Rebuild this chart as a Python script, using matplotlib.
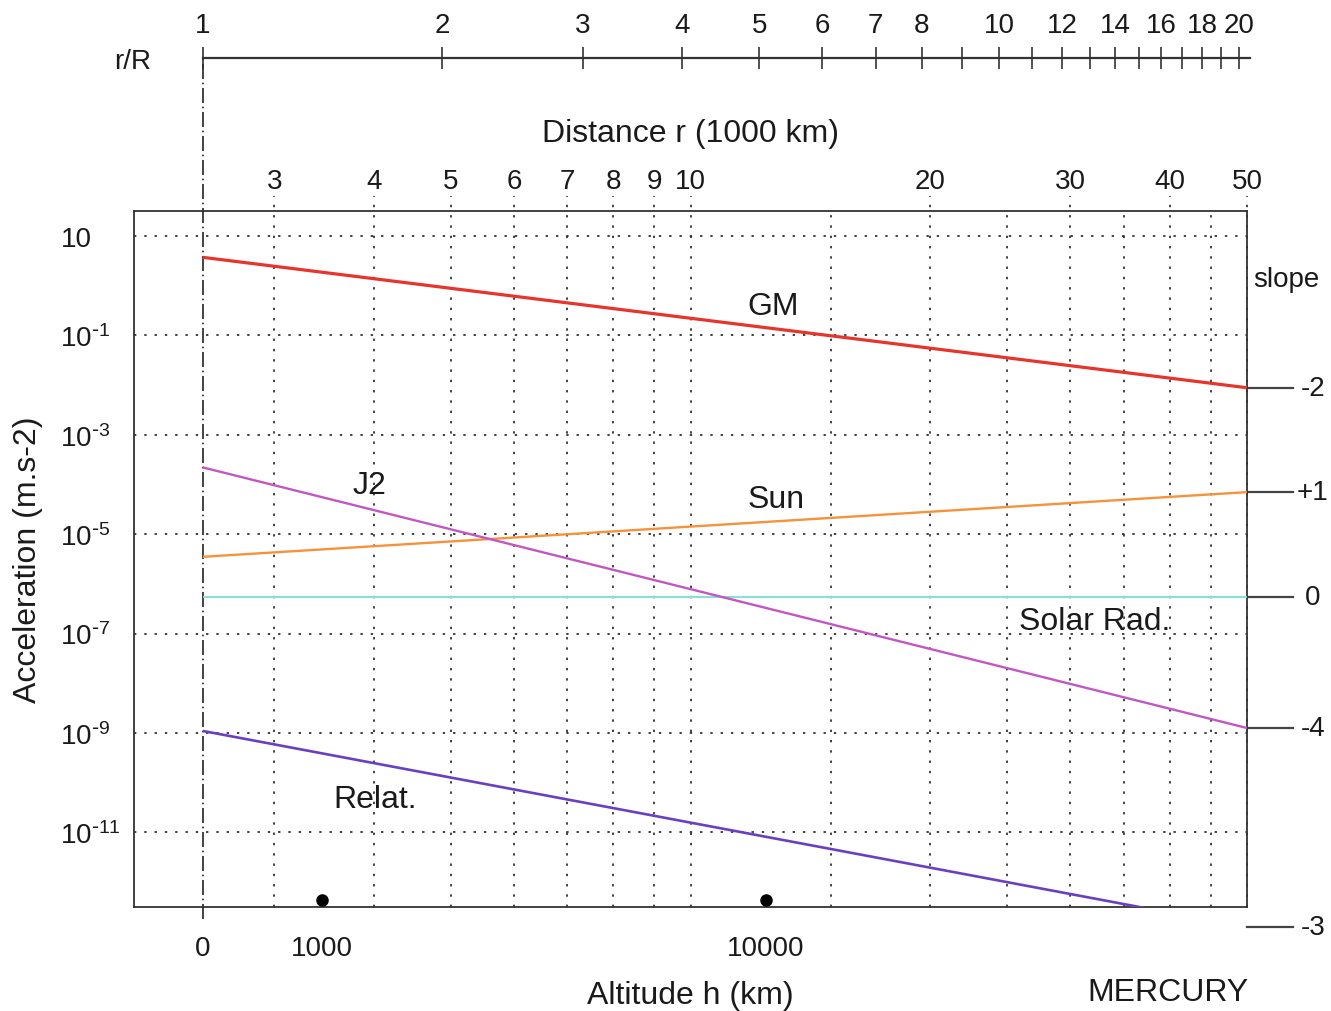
import matplotlib
matplotlib.use("Agg")
import matplotlib.pyplot as plt
import matplotlib.transforms as mtransforms

plt.rcParams["font.family"] = ["Liberation Sans", "DejaVu Sans"]
plt.rcParams["mathtext.default"] = "regular"

# ── data ───────────────────────────────────────────────────────────────────
R = 2.44                      # Mercury radius (1000 km)
r_ends = [R, 50.0]            # distance r (1000 km), line end points
gm     = [3.7, 8.8e-3]
sun    = [3.5e-6, 7.0e-5]
srad   = [5.4e-7, 5.4e-7]
j2     = [2.2e-4, 1.26e-9]
relat  = [1.1e-9, 1.24e-13]

series_names  = ["GM", "Sun", "Solar Rad.", "J2", "Relat."]
series_vals   = [gm, sun, srad, j2, relat]
series_colors = ["#e8352b", "#f7923a", "#86e0d6", "#c257c4", "#6a40c2"]
series_lw     = [2.3, 1.7, 1.5, 1.7, 1.9]
slopes        = ["-2", "+1", "0", "-4", "-3"]

dist_major = [3, 4, 5, 6, 7, 8, 9, 10, 20, 30, 40, 50]
dist_minor = [15, 25, 35, 45]
rR_ticks   = list(range(1, 21))
rR_labels  = [1, 2, 3, 4, 5, 6, 7, 8, 10, 12, 14, 16, 18, 20]
alt_ticks  = [0, 1000, 10000]
alt_dots   = [1000, 10000]
acc_exp    = list(range(1, -12, -2))

W, H = 1331, 1012
TXT = "#1a1a1a"
GRID = "#333333"
dots = (0, (1.3, 4.4))

fig = plt.figure(figsize=(W / 100, H / 100), dpi=100)
ax = fig.add_axes([134 / W, 1 - 908 / H, 1113 / W, 696 / H])
ax.set_xscale("log")
ax.set_yscale("log")
ax.set_xlim(2.0, 50)
ax.set_ylim(10 ** -12.5, 10 ** 1.5)

for sp in ax.spines.values():
    sp.set_color(GRID)
    sp.set_linewidth(1.3)

# lines
for vals, col, lw in zip(series_vals, series_colors, series_lw):
    ax.plot(r_ends, vals, color=col, lw=lw, solid_capstyle="butt", zorder=3)

# grid
xt = ax.get_xaxis_transform()
ax.vlines(dist_major, 0, 1 + 15 / 696, transform=xt, colors=GRID, lw=1.3,
          linestyles=dots, clip_on=False, zorder=1)
ax.vlines(dist_minor, 0, 1, transform=xt, colors=GRID, lw=1.3,
          linestyles=dots, zorder=1)
ax.set_yticks([10.0 ** e for e in acc_exp])
ax.yaxis.set_minor_locator(matplotlib.ticker.NullLocator())
ax.yaxis.grid(True, color=GRID, lw=1.3, linestyle=dots)
ax.set_axisbelow(True)

# dash-dot line at the surface (r = R)
ax.vlines([R], -12 / 696, (908 - 59) / 696, transform=xt, colors="#222222",
          lw=1.2, linestyles=(0, (9, 2.2, 1, 2.2)), clip_on=False, zorder=2)

# y tick labels
ylabels = ["10" if e == 1 else r"$10^{\text{-}%d}$" % -e for e in acc_exp]
ax.set_yticklabels(ylabels)
ax.tick_params(axis="y", length=0, pad=53, labelsize=20, labelcolor=TXT)
for t in ax.get_yticklabels():
    t.set_ha("left")

# distance ticks on top
ax.xaxis.set_ticks_position("top")
ax.set_xticks(dist_major)
ax.set_xticklabels([str(d) for d in dist_major])
ax.set_xticks([], minor=True)
ax.tick_params(axis="x", length=0, pad=12.5, labelsize=20, labelcolor=TXT)

# altitude labels + dots at the bottom
for h in alt_ticks:
    ax.text(R + h / 1000, -41 / 696, str(h), transform=xt, ha="center",
            va="center", fontsize=20, color=TXT)
ax.plot([R + h / 1000 for h in alt_dots], [7 / 696] * len(alt_dots), "o",
        color="black", ms=8, transform=xt, clip_on=False, zorder=4)

# slope markers on the right
yt = mtransforms.blended_transform_factory(ax.transAxes, ax.transData)
for vals, s in zip(series_vals, slopes):
    ax.plot([1, 1 + 46 / 1113], [vals[-1]] * 2, color="#444444", lw=1.6,
            transform=yt, clip_on=False)
    ax.text(1 + 66 / 1113, vals[-1], s, transform=yt, ha="center",
            va="center", fontsize=20, color=TXT)

# r/R axis at the top
axr = fig.add_axes([134 / W, 1 - 59 / H, 1113 / W, 0.00001])
axr.set_xscale("log")
axr.set_xlim(2.0, 50)
axr.set_yticks([])
for k in ["left", "right", "top"]:
    axr.spines[k].set_visible(False)
axr.spines["bottom"].set_bounds(R, 50.4)
axr.spines["bottom"].set_color("#333333")
axr.spines["bottom"].set_linewidth(1.6)
axr.patch.set_visible(False)
axr.set_xticks([R * k for k in rR_ticks])
axr.set_xticklabels([str(k) if k in rR_labels else "" for k in rR_ticks])
axr.xaxis.set_minor_locator(matplotlib.ticker.NullLocator())
axr.tick_params(axis="x", which="both", top=True, bottom=False, labeltop=True,
                labelbottom=False, direction="inout", length=16, width=1.2,
                color="#333333", pad=6.5, labelsize=20, labelcolor=TXT)

# text
fig.text(133 / W, 1 - 62 / H, "r/R", ha="center", va="center", fontsize=20, color=TXT)
fig.text(690 / W, 1 - 134 / H, "Distance r (1000 km)", ha="center", va="center",
         fontsize=23, color=TXT)
fig.text(690 / W, 1 - 996 / H, "Altitude h (km)", ha="center", va="center",
         fontsize=23, color=TXT)
fig.text(1168 / W, 1 - 993 / H, "MERCURY", ha="center", va="center",
         fontsize=23, color=TXT)
fig.text(28 / W, 1 - 560 / H, "Acceleration (m.s-2)", ha="center", va="center",
         rotation=90, fontsize=23, color=TXT)
fig.text(1253 / W, 1 - 280 / H, "slope", ha="left", va="center", fontsize=20, color=TXT)

label_pos = {"GM": (773, 307), "Sun": (776, 500), "J2": (369, 486),
             "Solar Rad.": (1095, 622), "Relat.": (375, 800)}
for name in series_names:
    px, py = label_pos[name]
    fig.text(px / W, 1 - py / H, name, ha="center", va="center",
             fontsize=23, color=TXT)

fig.savefig("out.png", dpi=100, facecolor="white")
